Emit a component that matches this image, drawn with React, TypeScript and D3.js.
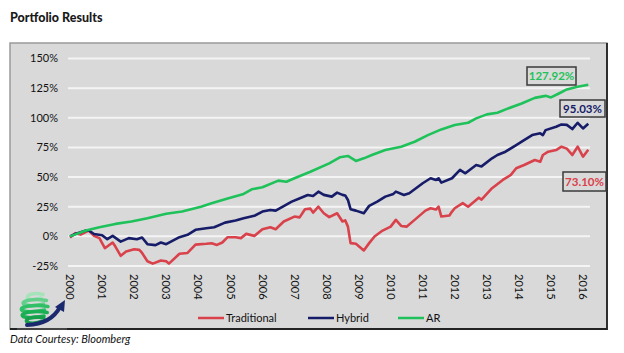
import React, { useRef, useEffect } from "react";
import * as d3 from "d3";

// values, [month, cumulative return %]
const traditional: [string, number][] = [
  ["2000-01", -1], ["2000-03", 2.7], ["2000-05", 1.5], ["2000-08", 4.9], ["2000-10", 0.4], ["2000-12", -1.5],
  ["2001-02", -10], ["2001-05", -5.2], ["2001-06", -8.6], ["2001-08", -16.4], ["2001-10", -12.8], ["2002-01", -10.8],
  ["2002-03", -11.4], ["2002-04", -14], ["2002-06", -21], ["2002-08", -23], ["2002-11", -20.3], ["2003-01", -21],
  ["2003-02", -23], ["2003-06", -14.7], ["2003-09", -14], ["2003-12", -7], ["2004-04", -6.3], ["2004-06", -5.8],
  ["2004-08", -7.2], ["2004-10", -5.2], ["2004-12", -0.7], ["2005-03", -0.7], ["2005-05", -1.5], ["2005-07", 2.1],
  ["2005-10", 0.4], ["2006-01", 6], ["2006-04", 7.7], ["2006-06", 6], ["2006-09", 12.5], ["2007-01", 16.7],
  ["2007-03", 16], ["2007-05", 22.9], ["2007-07", 23.4], ["2007-08", 20], ["2007-10", 25], ["2007-12", 19.5],
  ["2008-02", 16.2], ["2008-05", 19.5], ["2008-07", 12.5], ["2008-08", 13.5], ["2008-09", 8.2], ["2008-10", -5.7],
  ["2008-12", -6.3], ["2009-03", -11.9], ["2009-05", -5.7], ["2009-07", -0.1], ["2009-10", 4.9], ["2010-01", 8.2],
  ["2010-03", 13.9], ["2010-05", 8.8], ["2010-07", 8.2], ["2010-10", 13.9], ["2011-02", 21.7], ["2011-04", 23.7],
  ["2011-06", 22.6], ["2011-07", 25], ["2011-08", 16.7], ["2011-11", 17.6], ["2011-12", 20.9], ["2012-01", 23.7],
  ["2012-04", 28], ["2012-06", 25], ["2012-10", 32.6], ["2012-11", 31], ["2013-03", 40.6], ["2013-07", 47.6],
  ["2013-10", 51.8], ["2013-12", 57.4], ["2014-03", 60.2], ["2014-07", 64.4], ["2014-09", 63], ["2014-10", 68.6],
  ["2014-12", 71.4], ["2015-03", 72.8], ["2015-05", 75.6], ["2015-07", 74], ["2015-09", 68.6], ["2015-11", 75.6],
  ["2016-01", 67.2], ["2016-03", 73.1],
];

const hybrid: [string, number][] = [
  ["2000-01", 0], ["2000-03", 2], ["2000-07", 5], ["2000-08", 5], ["2000-10", 2], ["2001-01", 1],
  ["2001-03", -2.4], ["2001-05", 0.4], ["2001-08", -4.4], ["2001-11", -1.5], ["2002-02", -2.4], ["2002-04", -1],
  ["2002-06", -6.6], ["2002-09", -7.4], ["2002-11", -5.2], ["2003-01", -6.6], ["2003-06", -0.7], ["2003-09", 1.3],
  ["2003-12", 5.5], ["2004-04", 6.9], ["2004-07", 7.7], ["2004-11", 11.6], ["2005-03", 13.3], ["2005-06", 15.3],
  ["2005-10", 17.3], ["2006-01", 20.9], ["2006-04", 22.3], ["2006-06", 21.7], ["2006-12", 29.3], ["2007-04", 33],
  ["2007-06", 34.9], ["2007-08", 34], ["2007-10", 37.7], ["2007-12", 35], ["2008-03", 33.5], ["2008-05", 36.9],
  ["2008-07", 35], ["2008-08", 34.5], ["2008-09", 30.7], ["2008-10", 22.9], ["2008-12", 21.7], ["2009-03", 19.5],
  ["2009-05", 25.7], ["2009-08", 29.3], ["2009-11", 33.5], ["2010-02", 35.8], ["2010-03", 37.7], ["2010-06", 34.9],
  ["2010-08", 36.4], ["2011-01", 44.8], ["2011-04", 49], ["2011-06", 47.6], ["2011-07", 49], ["2011-08", 45.3],
  ["2011-12", 49], ["2012-03", 56], ["2012-05", 53.2], ["2012-09", 60.2], ["2012-11", 59], ["2013-03", 65.8],
  ["2013-05", 68.6], ["2013-08", 71.4], ["2013-12", 77], ["2014-03", 81.2], ["2014-06", 85.4], ["2014-09", 86.9],
  ["2014-10", 85.4], ["2014-11", 89.6], ["2015-03", 92.4], ["2015-05", 94.4], ["2015-07", 94], ["2015-09", 90.5],
  ["2015-11", 95.8], ["2016-01", 91], ["2016-03", 95.03],
];

const ar: [string, number][] = [
  ["2000-01", 0], ["2000-07", 5], ["2000-12", 7.7], ["2001-06", 10.5], ["2001-12", 12.5], ["2002-06", 15.3],
  ["2003-01", 19], ["2003-07", 21], ["2004-02", 25], ["2004-06", 28], ["2004-12", 32], ["2005-06", 35.8],
  ["2005-09", 39.7], ["2006-01", 41.4], ["2006-07", 47], ["2006-10", 46], ["2007-01", 49], ["2007-07", 54.5],
  ["2008-02", 61.6], ["2008-06", 66.7], ["2008-09", 67.8], ["2008-12", 63.6], ["2009-03", 65.8], ["2009-06", 68.6],
  ["2009-11", 72.8], ["2010-05", 75.6], ["2010-10", 79.8], ["2011-03", 85.4], ["2011-08", 90.2], ["2012-01", 93.9],
  ["2012-06", 95.8], ["2012-09", 99.5], ["2013-01", 102.9], ["2013-05", 104.2], ["2013-09", 107.9], ["2014-02", 112.1],
  ["2014-07", 116.8], ["2014-11", 118.5], ["2015-01", 117.2], ["2015-04", 120.5], ["2015-07", 123.9], ["2015-11", 126.1],
  ["2016-03", 127.92],
];

const yTicks = [-25, 0, 25, 50, 75, 100, 125, 150];
const years = d3.range(2000, 2017);
const seriesNames = ["Traditional", "Hybrid", "AR"];
const seriesColors = ["#d9414b", "#161c68", "#1fc25a"];

export default function App() {
  const svgRef = useRef<SVGSVGElement>(null);

  useEffect(() => {
    const font = "Lato, 'Open Sans', sans-serif";
    const parse = d3.timeParse("%Y-%m");
    const svg = d3.select(svgRef.current);
    svg.selectAll("*").remove();

    const x = d3.scaleTime().domain([new Date(2000, 0, 1), new Date(2016, 0, 1)]).range([70, 583]);
    const y = d3.scaleLinear().domain([-25, 150]).range([266, 58.5]);

    // title
    svg.append("text").text("Portfolio Results")
      .attr("x", 10).attr("y", 22)
      .attr("font-family", font).attr("font-weight", 900).attr("font-size", 12.5)
      .attr("fill", "#1a1a1a");

    // chart box
    svg.append("rect")
      .attr("x", 10).attr("y", 43).attr("width", 597).attr("height", 286)
      .attr("fill", "#d9d9d9").attr("stroke", "#9a9a9a").attr("stroke-width", 1.5);
    svg.append("path")
      .attr("d", "M607,43 V329 H10")
      .attr("fill", "none").attr("stroke", "#222").attr("stroke-width", 1.8);

    // grid
    svg.append("g").selectAll("line")
      .data(yTicks)
      .enter().append("line")
      .attr("x1", 68).attr("x2", 590)
      .attr("y1", d => y(d)).attr("y2", d => y(d))
      .attr("stroke", "#f4f4f4").attr("stroke-width", 2);

    svg.append("g").selectAll("text")
      .data(yTicks)
      .enter().append("text")
      .text(d => `${d}%`)
      .attr("x", 58).attr("y", d => y(d))
      .attr("dy", "0.35em").attr("text-anchor", "end")
      .attr("font-family", font).attr("font-size", 11).attr("fill", "#111");

    svg.append("g").selectAll("text")
      .data(years)
      .enter().append("text")
      .text(d => d)
      .attr("transform", d => `translate(${x(new Date(d, 0, 1))},274) rotate(90)`)
      .attr("dy", "0.35em")
      .attr("font-family", font).attr("font-size", 11).attr("fill", "#111");

    // lines
    const line = d3.line<[string, number]>()
      .x(d => x(parse(d[0]) as Date))
      .y(d => y(d[1]));

    [traditional, hybrid, ar].forEach((s, i) => {
      svg.append("path")
        .attr("d", line(s))
        .attr("fill", "none")
        .attr("stroke", seriesColors[i])
        .attr("stroke-width", 2.6)
        .attr("stroke-linejoin", "round");
    });

    // end labels
    const ends = [
      { v: ar[ar.length - 1][1], color: seriesColors[2], x: 527, y: 67, w: 49, h: 18 },
      { v: hybrid[hybrid.length - 1][1], color: seriesColors[1], x: 560, y: 100, w: 45, h: 17 },
      { v: traditional[traditional.length - 1][1], color: seriesColors[0], x: 563, y: 172, w: 43, h: 19 },
    ];
    const endG = svg.append("g").selectAll("g").data(ends).enter().append("g");
    endG.append("rect")
      .attr("x", d => d.x).attr("y", d => d.y).attr("width", d => d.w).attr("height", d => d.h)
      .attr("fill", "#d9d9d9").attr("stroke", "#3a3a3a").attr("stroke-width", 1.5);
    endG.append("text")
      .text(d => `${d.v.toFixed(2)}%`)
      .attr("x", d => d.x + d.w / 2).attr("y", d => d.y + d.h / 2)
      .attr("dy", "0.36em").attr("text-anchor", "middle")
      .attr("font-family", font).attr("font-weight", "bold").attr("font-size", 11.5)
      .attr("fill", d => d.color);

    // legend
    const legendX = [198, 308, 398];
    const leg = svg.append("g").selectAll("g")
      .data(seriesNames)
      .enter().append("g")
      .attr("transform", (d, i) => `translate(${legendX[i]},318)`);
    leg.append("line")
      .attr("x1", 0).attr("x2", 26)
      .attr("stroke", (d, i) => seriesColors[i]).attr("stroke-width", 2.5);
    leg.append("text")
      .text(d => d)
      .attr("x", 28).attr("dy", "0.35em")
      .attr("font-family", font).attr("font-size", 11).attr("fill", "#111");

    // footer
    svg.append("text").text("Data Courtesy: Bloomberg")
      .attr("x", 10).attr("y", 343)
      .attr("font-family", font).attr("font-style", "italic").attr("font-size", 11)
      .attr("fill", "#111");

    // logo (rough globe: green crescents + navy arrow)
    const logo = svg.append("g").attr("transform", "translate(36,309)");
    const bands = [
      { y: -12, w: 10, c: "#a6e3bb" },
      { y: -6, w: 15, c: "#62cf8a" },
      { y: 0, w: 17, c: "#2fbf66" },
      { y: 6, w: 16, c: "#1aae55" },
      { y: 11.5, w: 11, c: "#16a04c" },
    ];
    logo.selectAll("path.band")
      .data(bands)
      .enter().append("path")
      .attr("class", "band")
      .attr("d", d => `M${d.w * 0.7},${d.y - 2.5} C${-d.w * 0.2},${d.y - 5} ${-d.w * 1.1},${d.y - 2} ${-d.w * 0.8},${d.y + 1.5} C${-d.w * 0.5},${d.y + 3.5} ${d.w * 0.1},${d.y + 2.5} ${d.w * 0.5},${d.y + 1}`)
      .attr("fill", "none").attr("stroke", d => d.c).attr("stroke-width", 3.6)
      .attr("stroke-linecap", "round");
    logo.append("path")
      .attr("d", "M-9,16 Q15,15 24,-2")
      .attr("fill", "none").attr("stroke", "#1b2a6e").attr("stroke-width", 4)
      .attr("stroke-linecap", "round");
    logo.append("path")
      .attr("d", "M29,-9 L28,3 L19,-2 Z")
      .attr("fill", "#1b2a6e");
    logo.append("line")
      .attr("x1", -19).attr("x2", 31).attr("y1", 20).attr("y2", 20)
      .attr("stroke", "#444").attr("stroke-width", 2);
  }, []);

  return (
    <svg ref={svgRef} width={624} height={353}
      style={{ position: "absolute", left: 0, top: 0, background: "#fff" }} />
  );
}
